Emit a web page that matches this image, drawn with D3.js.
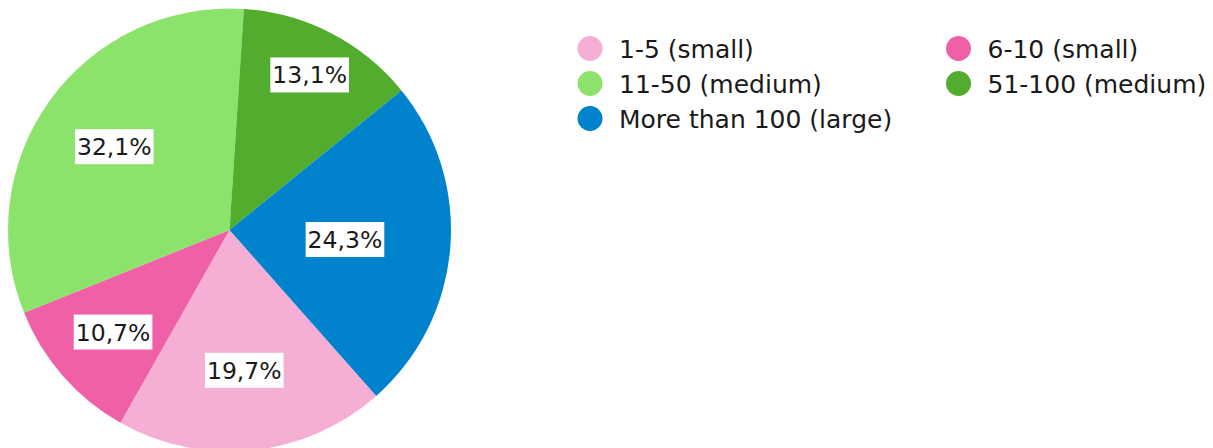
<!DOCTYPE html>
<html><head><meta charset="utf-8">
<script src="https://cdn.jsdelivr.net/npm/d3@7"></script>
<style>html,body{margin:0;padding:0;background:#fff;}svg{display:block;}</style>
</head><body>
<svg id="chart" width="1213" height="448"></svg>
<script>
const categories = ["1-5 (small)", "6-10 (small)", "11-50 (medium)", "51-100 (medium)", "More than 100 (large)"];
const values = [19.7, 10.7, 32.1, 13.1, 24.3];
const labels = ["19,7%", "10,7%", "32,1%", "13,1%", "24,3%"];
const colors = ["#f6afd4", "#ef60a7", "#8ce36c", "#52ac2e", "#0082cc"];
// label placement: fraction of radius along each slice's mid-angle
const labelRadiusFrac = [0.637, 0.699, 0.642, 0.788, 0.523];

const FONT = "'DejaVu Sans', sans-serif";
const svg = d3.select("#chart");
const cx = 229.5, cy = 230, R = 221.5;
const start = 138.5 * Math.PI / 180;

const pie = d3.pie().sort(null).value(d => d).startAngle(start).endAngle(start + 2 * Math.PI);
const arcs = pie(values);
const arc = d3.arc().innerRadius(0).outerRadius(R);

const g = svg.append("g").attr("transform", `translate(${cx},${cy})`);
g.selectAll("path.slice").data(arcs).join("path")
  .attr("class", "slice")
  .attr("d", arc)
  .attr("fill", (d, i) => colors[i]);

const lg = g.selectAll("g.lbl").data(arcs).join("g").attr("class", "lbl")
  .attr("transform", (d, i) => {
    const a = (d.startAngle + d.endAngle) / 2;
    const r = labelRadiusFrac[i] * R;
    return `translate(${r * Math.sin(a)},${-r * Math.cos(a)})`;
  });
lg.append("rect").attr("fill", "#fff");
lg.append("text")
  .attr("text-anchor", "middle")
  .attr("dy", "0.36em")
  .attr("font-family", FONT)
  .attr("font-size", 23.5)
  .attr("fill", "#1a1a1a")
  .text((d, i) => labels[i]);
lg.each(function() {
  const t = d3.select(this).select("text").node().getBBox();
  d3.select(this).select("rect")
    .attr("x", t.x - 2).attr("width", t.width + 4)
    .attr("y", -17.5).attr("height", 35);
});

// legend
const colX = [590, 958.5];
const rowY = [48.5, 83.5, 118.5];
const legend = svg.append("g");
categories.forEach((c, i) => {
  const x = colX[i % 2], y = rowY[Math.floor(i / 2)];
  legend.append("circle").attr("cx", x).attr("cy", y).attr("r", 12.5).attr("fill", colors[i]);
  legend.append("text").attr("x", x + 29).attr("y", y).attr("dy", "0.36em")
    .attr("font-family", FONT).attr("font-size", 25).attr("fill", "#1a1a1a").text(c);
});
</script>
</body></html>
